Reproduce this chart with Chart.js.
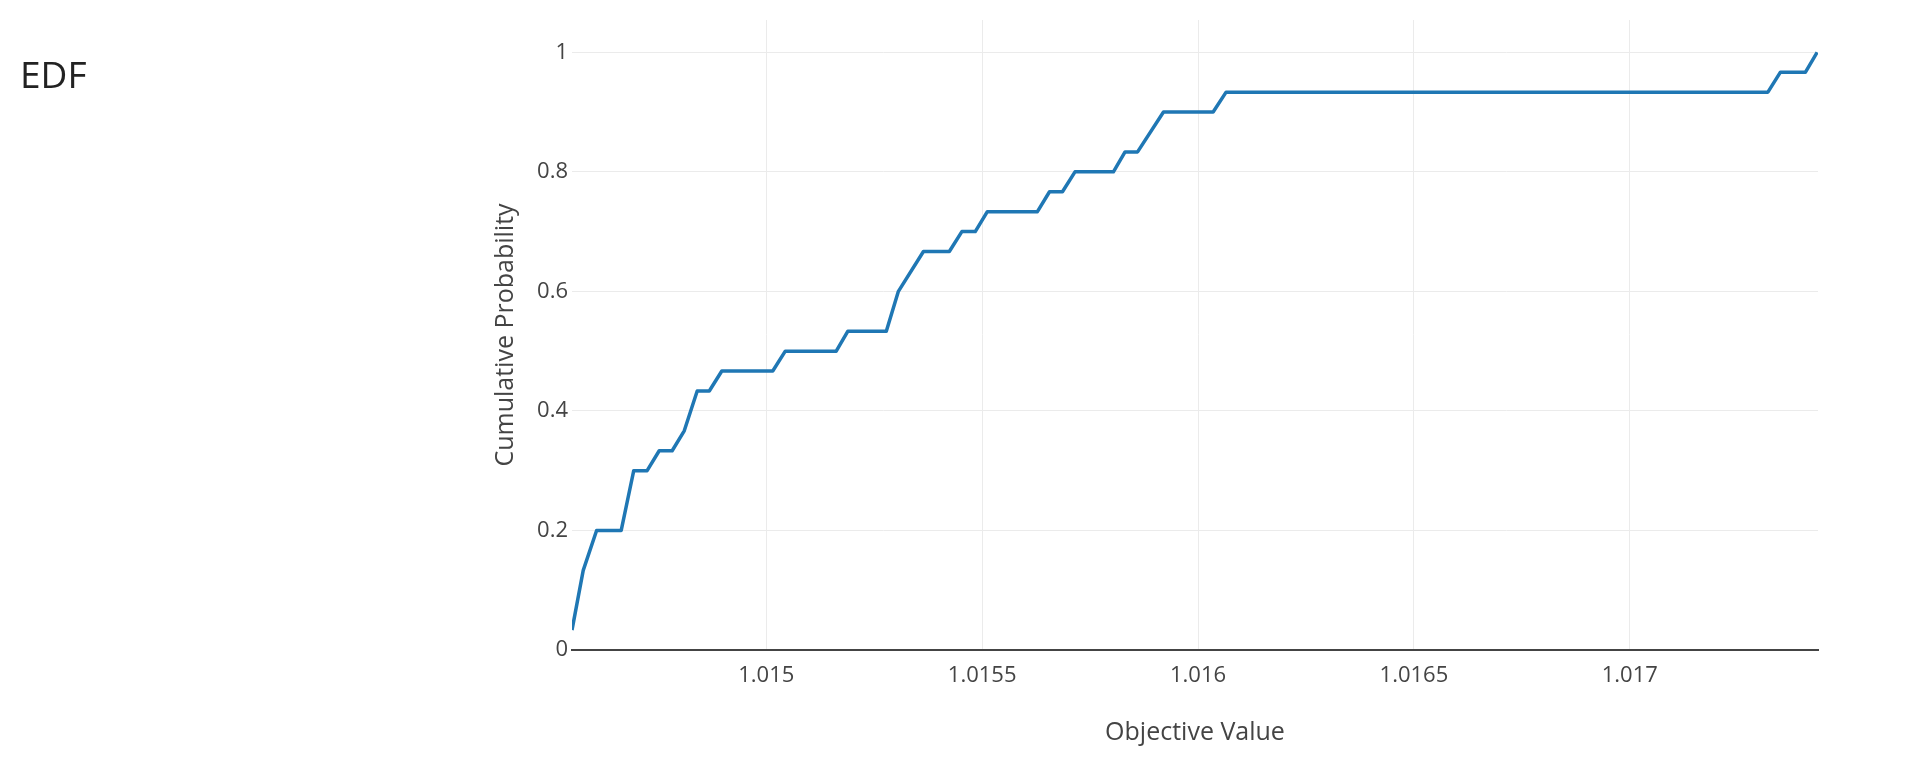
<!DOCTYPE html>
<html>
<head>
<meta charset="utf-8">
<script src="https://cdn.jsdelivr.net/npm/chart.js@4"></script>
<style>
  body { margin: 0; background: #fff; }
  #wrap { position: relative; width: 1920px; height: 777px; }
  #title {
    position: absolute; left: 20px; top: 55px;
    font: 37px "Open Sans", sans-serif; line-height: 37px; color: #222;
  }
  canvas { position: absolute; left: 0; top: 0; }
</style>
</head>
<body>
<div id="wrap">
  <canvas id="edf" width="1920" height="777"></canvas>
  <div id="title">EDF</div>
</div>
<script>
// vertices of the EDF curve
const objValues = [1.01455, 1.014576, 1.014607, 1.014664, 1.014693, 1.014724, 1.014752, 1.014782,
  1.01481, 1.01484, 1.014868, 1.014897, 1.015015, 1.015044, 1.015162, 1.015189, 1.015278,
  1.015306, 1.015364, 1.015424, 1.015453, 1.015484, 1.015512, 1.015628, 1.015656, 1.015686,
  1.015715, 1.015804, 1.015831, 1.01586, 1.01592, 1.016035, 1.016065, 1.01732, 1.017349,
  1.017407, 1.017434];
const cumProb = [0.0333, 0.1333, 0.2, 0.2, 0.3, 0.3, 0.3333, 0.3333, 0.3667, 0.4333, 0.4333,
  0.4667, 0.4667, 0.5, 0.5, 0.5333, 0.5333, 0.6, 0.6667, 0.6667, 0.7, 0.7, 0.7333, 0.7333,
  0.7667, 0.7667, 0.8, 0.8, 0.8333, 0.8333, 0.9, 0.9, 0.9333, 0.9333, 0.9667, 0.9667, 1];

const xTicks = [1.015, 1.0155, 1.016, 1.0165, 1.017];
const yTicks = [0, 0.2, 0.4, 0.6, 0.8, 1];
const xRange = [1.01455, 1.017436];
const yRange = [0, 1.054];

const tickFont = { family: '"Open Sans", sans-serif', size: 22 };
const titleFont = { family: '"Open Sans", sans-serif', size: 25 };

const points = objValues.map((x, i) => ({ x, y: cumProb[i] }));
const fmt = v => String(parseFloat(v.toFixed(5)));

new Chart(document.getElementById('edf'), {
  type: 'line',
  data: {
    datasets: [{
      data: points,
      borderColor: '#1f77b4',
      borderWidth: 3.5,
      borderJoinStyle: 'round',
      pointRadius: 0,
      tension: 0,
      fill: false
    }]
  },
  options: {
    responsive: false,
    devicePixelRatio: 1,
    animation: false,
    layout: { padding: { left: 491, right: 102, top: 20, bottom: 29 } },
    plugins: { legend: { display: false }, tooltip: { enabled: false } },
    scales: {
      x: {
        type: 'linear',
        min: xRange[0],
        max: xRange[1],
        afterBuildTicks: s => { s.ticks = xTicks.map(value => ({ value })); },
        afterFit: s => { s.height = 98; },
        ticks: { color: '#444', font: tickFont, padding: 13, maxRotation: 0, autoSkip: false, callback: fmt },
        grid: { color: '#ebebeb', lineWidth: 1, drawTicks: false },
        border: { color: '#444', width: 2 },
        title: { display: true, text: 'Objective Value', color: '#444', font: titleFont, padding: 0 }
      },
      y: {
        type: 'linear',
        min: yRange[0],
        max: yRange[1],
        afterBuildTicks: s => { s.ticks = yTicks.map(value => ({ value })); },
        afterFit: s => { s.width = 81; },
        ticks: { color: '#444', font: tickFont, padding: 4, callback: fmt },
        grid: { color: '#ebebeb', lineWidth: 1, drawTicks: false },
        border: { display: false },
        title: { display: true, text: 'Cumulative Probability', color: '#444', font: titleFont, padding: 0 }
      }
    }
  }
});
</script>
</body>
</html>
